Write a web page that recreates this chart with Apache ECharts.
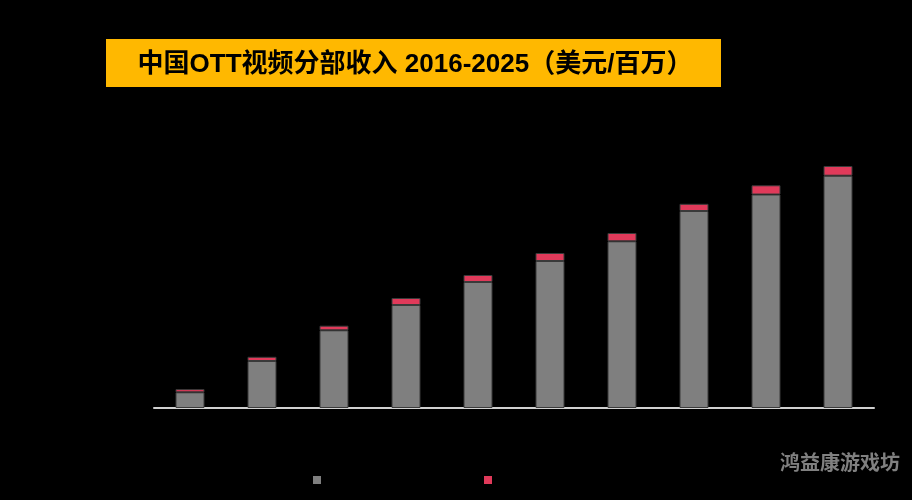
<!DOCTYPE html>
<html>
<head>
<meta charset="utf-8">
<style>html,body{margin:0;padding:0;background:#000;}#c{width:912px;height:500px;}</style>
<script src="https://cdn.jsdelivr.net/npm/echarts@6/dist/echarts.min.js"></script>
</head>
<body>
<div id="c"></div>
<script>
var categories = ['2016','2017','2018','2019','2020','2021','2022','2023','2024','2025'];
var seriesNames = ['订阅收入', '广告收入'];
var subscriptionValues = [157, 470, 777, 1030, 1260, 1470, 1667, 1970, 2135, 2323];
var advertisingValues = [32, 42, 46, 70, 70, 80, 83, 72, 92, 97];
var titleText = '中国OTT视频分部收入 2016-2025（美元/百万）';
var watermarkText = '鸿益康游戏坊';

var chart = echarts.init(document.getElementById('c'), null, {renderer: 'canvas'});
var barBorder = {borderColor: '#3a3a3a', borderWidth: 1};
chart.setOption({
  backgroundColor: '#000000',
  animation: false,
  grid: {left: 154, right: 38, top: 157, bottom: 92},
  legend: [
    {data: [seriesNames[0]], left: 308, top: 469, itemWidth: 8, itemHeight: 8, icon: 'rect',
     itemStyle: {borderWidth: 0}, textStyle: {color: '#000000', fontSize: 12}},
    {data: [seriesNames[1]], left: 479, top: 469, itemWidth: 8, itemHeight: 8, icon: 'rect',
     itemStyle: {borderWidth: 0}, textStyle: {color: '#000000', fontSize: 12}}
  ],
  xAxis: {
    type: 'category', data: categories,
    axisLine: {lineStyle: {color: '#D0D0D0', width: 2}},
    axisTick: {show: false},
    axisLabel: {color: '#000000'}
  },
  yAxis: {
    type: 'value', min: 0, max: 2510,
    axisLine: {show: false}, axisTick: {show: false},
    axisLabel: {show: false}, splitLine: {show: false}
  },
  series: [
    {name: seriesNames[0], type: 'bar', stack: 'a', barWidth: 29, data: subscriptionValues,
     itemStyle: Object.assign({color: '#7F7F7F'}, barBorder)},
    {name: seriesNames[1], type: 'bar', stack: 'a', barWidth: 29, data: advertisingValues,
     itemStyle: Object.assign({color: '#E03A5A'}, barBorder)}
  ],
  graphic: [
    {type: 'rect', shape: {x: 106, y: 39, width: 615, height: 48}, style: {fill: '#FFB800'}, z: 10},
    {type: 'text', x: 415, y: 65, z: 11, style: {text: titleText, fill: '#000000',
      font: 'bold 26px "Liberation Sans", "Noto Sans CJK SC", sans-serif', textAlign: 'center', textVerticalAlign: 'middle'}},
    {type: 'text', x: 840, y: 462, z: 11, style: {text: watermarkText, fill: '#808080',
      font: 'bold 20px "Noto Sans CJK SC", sans-serif', textAlign: 'center', textVerticalAlign: 'middle'}}
  ]
});
</script>
</body>
</html>
